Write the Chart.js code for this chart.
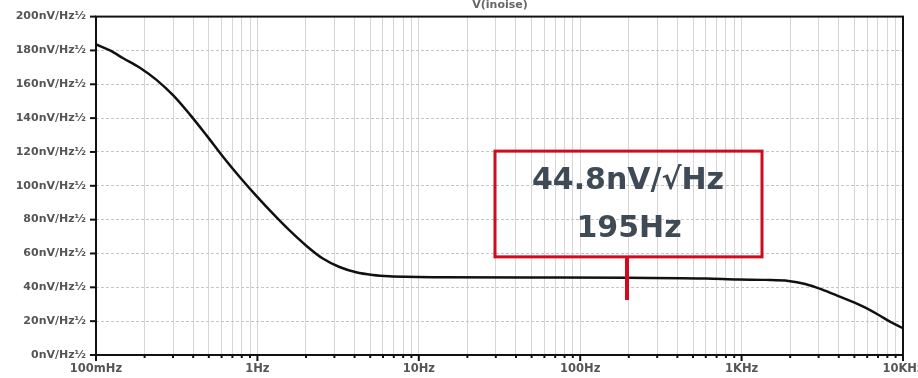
<!DOCTYPE html>
<html>
<head>
<meta charset="utf-8">
<script src="https://cdn.jsdelivr.net/npm/chart.js@4/dist/chart.umd.min.js"></script>
<style>
  html, body { margin: 0; padding: 0; background: #fff; }
  #wrap { width: 918px; height: 378px; position: relative; }
</style>
</head>
<body>
<div id="wrap"><canvas id="chart"></canvas></div>
<script>
// frequency (Hz) and input noise (nV/rtHz)
const freqs = [0.1, 0.122, 0.1475, 0.187, 0.237, 0.301, 0.381, 0.484, 0.612, 0.777, 0.985,
  1.248, 1.582, 2.007, 2.543, 3.225, 4.09, 5.18, 6.57, 8.34, 13.4, 50, 195, 600, 958,
  1400, 1952, 2477, 3137, 3979, 5542, 7031, 8498, 10000];
const noise = [183.6, 180, 175.4, 169.8, 162.6, 153.4, 142.2, 129.8, 117.2, 105.2, 94,
  83.5, 73.6, 64.6, 57, 52, 48.9, 47.3, 46.5, 46.2, 46, 45.8, 45.7, 45.2, 44.6,
  44.4, 43.8, 42, 38.8, 34.8, 29, 23.8, 19.2, 15.9];

const decades = [0.1, 1, 10, 100, 1000, 10000];
const decadeLabels = ['100mHz', '1Hz', '10Hz', '100Hz', '1KHz', '10KHz'];
const yTicks = [0, 20, 40, 60, 80, 100, 120, 140, 160, 180, 200];

const markFreq = 195;
const markText = ['44.8nV/\u221AHz', '195Hz'];
const traceName = 'V(inoise)';

const labelFont = '"DejaVu Sans", Verdana, sans-serif';

function isDecade(v) {
  return decades.some(d => Math.abs(v / d - 1) < 1e-6);
}

// frame, tick marks, title and the marker box
const extras = {
  id: 'extras',
  afterDraw(chart) {
    const { ctx, chartArea: a, scales } = chart;
    const xs = scales.x, ys = scales.y;
    ctx.save();
    ctx.strokeStyle = '#111';
    ctx.lineWidth = 2;
    ctx.strokeRect(a.left, a.top, a.right - a.left, a.bottom - a.top);

    yTicks.forEach(v => {
      const y = ys.getPixelForValue(v);
      ctx.beginPath();
      ctx.moveTo(a.left - 6, y);
      ctx.lineTo(a.left, y);
      ctx.stroke();
    });
    xs.ticks.forEach(t => {
      const x = xs.getPixelForValue(t.value);
      ctx.beginPath();
      ctx.moveTo(x, a.bottom);
      ctx.lineTo(x, a.bottom + (isDecade(t.value) ? 6 : 3));
      ctx.stroke();
    });

    ctx.fillStyle = '#666';
    ctx.font = 'bold 11px ' + labelFont;
    ctx.textAlign = 'center';
    ctx.textBaseline = 'alphabetic';
    ctx.fillText(traceName, 500, 8);

    // marker box anchored at 195 Hz
    const mx = Math.round(xs.getPixelForValue(markFreq));
    const stemBottom = ys.getPixelForValue(32.5);
    const boxBottom = ys.getPixelForValue(58);
    const boxTop = ys.getPixelForValue(120.5);
    const boxL = mx - 132, boxR = mx + 135;
    ctx.strokeStyle = '#d10a1c';
    ctx.lineWidth = 3;
    ctx.strokeRect(boxL, boxTop, boxR - boxL, boxBottom - boxTop);
    ctx.fillStyle = '#d10a1c';
    ctx.fillRect(mx - 2, boxBottom, 4, stemBottom - boxBottom);

    ctx.fillStyle = '#3e4a55';
    ctx.font = 'bold 30px ' + labelFont;
    ctx.textAlign = 'center';
    ctx.fillText(markText[0], mx + 1, boxTop + 38);
    ctx.fillText(markText[1], mx + 2, boxTop + 86);
    ctx.restore();
  }
};

const ctx = document.getElementById('chart').getContext('2d');
new Chart(ctx, {
  type: 'line',
  data: {
    datasets: [{
      label: traceName,
      data: freqs.map((f, i) => ({ x: f, y: noise[i] })),
      borderColor: '#111',
      borderWidth: 2.5,
      pointRadius: 0,
      fill: false,
      cubicInterpolationMode: 'monotone'
    }]
  },
  options: {
    responsive: true,
    maintainAspectRatio: false,
    animation: false,
    layout: { padding: { top: 12, right: 15, bottom: 0, left: 0 } },
    plugins: {
      legend: { display: false },
      tooltip: { enabled: false },
      title: { display: false }
    },
    scales: {
      x: {
        type: 'logarithmic',
        min: 0.1,
        max: 10000,
        afterBuildTicks: scale => {
          const t = [];
          decades.slice(0, -1).forEach(d => {
            for (let m = 1; m < 10; m++) t.push({ value: d * m });
          });
          t.push({ value: 10000 });
          scale.ticks = t;
        },
        afterFit: scale => {
          scale.height = 23;
          scale.paddingLeft = 0;
          scale.paddingRight = 0;
        },
        grid: {
          color: '#d6d6d6',
          lineWidth: 1,
          drawTicks: false
        },
        border: { display: false },
        ticks: {
          autoSkip: false,
          maxRotation: 0,
          padding: 7,
          color: '#555',
          font: { family: labelFont, size: 11.5, weight: 'bold' },
          callback: v => {
            const i = decades.findIndex(d => Math.abs(v / d - 1) < 1e-6);
            return i >= 0 ? decadeLabels[i] : '';
          }
        }
      },
      y: {
        min: 0,
        max: 200,
        afterBuildTicks: scale => { scale.ticks = yTicks.map(v => ({ value: v })); },
        afterFit: scale => { scale.width = 96; },
        grid: {
          color: '#c6c6c6',
          lineWidth: 1,
          drawTicks: false
        },
        border: { display: false, dash: [3, 2] },
        ticks: {
          padding: 10,
          color: '#555',
          font: { family: labelFont, size: 11, weight: 'bold' },
          callback: v => v + 'nV/Hz\u00BD'
        }
      }
    }
  },
  plugins: [extras]
});
</script>
</body>
</html>
